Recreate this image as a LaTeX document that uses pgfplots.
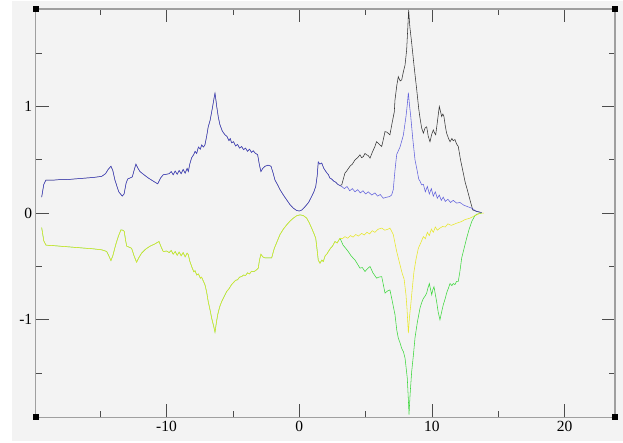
\documentclass[border=0pt]{standalone}
\usepackage{fontspec}
\setmainfont{Liberation Serif}
\usepackage{pgfplots}
\usepackage{pgfplotstable}
\pgfplotsset{compat=1.18}
\definecolor{bg}{RGB}{243,243,243}
\definecolor{cblue}{RGB}{60,60,215}
\definecolor{cgreen}{RGB}{60,215,60}
\definecolor{cyellow}{RGB}{232,232,40}

\pgfplotstableread{
x y
-19.41 0.15
-19.25 0.27
-19.09 0.31
-18.5 0.31
-18.0 0.315
-17.5 0.315
-17.0 0.32
-16.5 0.325
-16.0 0.33
-15.5 0.335
-14.89 0.345
-14.6 0.37
-14.4 0.41
-14.19 0.44
-14.05 0.40
-13.89 0.31
-13.6 0.20
-13.34 0.16
-13.2 0.18
-13.05 0.28
-12.93 0.32
-12.75 0.33
-12.58 0.34
-12.45 0.40
-12.31 0.46
-12.15 0.42
-12.0 0.39
-11.7 0.36
-11.38 0.33
-11.0 0.30
-10.67 0.275
-10.45 0.33
-10.25 0.36
-10.0 0.365
-9.8 0.37
-9.65 0.39
-9.5 0.36
-9.35 0.395
-9.2 0.365
-9.05 0.40
-8.9 0.37
-8.75 0.41
-8.6 0.375
-8.45 0.42
-8.36 0.39
-8.25 0.46
-8.11 0.52
-7.95 0.55
-7.85 0.58
-7.73 0.56
-7.6 0.62
-7.45 0.60
-7.36 0.64
-7.22 0.62
-7.11 0.64
-6.98 0.72
-6.86 0.81
-6.72 0.87
-6.6 0.95
-6.5 1.02
-6.42 1.08
-6.35 1.125
-6.28 1.06
-6.22 1.0
-6.1 0.90
-5.98 0.83
-5.8 0.77
-5.6 0.735
-5.45 0.72
-5.3 0.68
-5.2 0.70
-5.1 0.66
-4.95 0.67
-4.8 0.63
-4.65 0.645
-4.5 0.61
-4.34 0.625
-4.2 0.595
-4.05 0.61
-3.9 0.58
-3.75 0.60
-3.6 0.57
-3.47 0.585
-3.3 0.56
-3.14 0.55
-3.0 0.45
-2.89 0.39
-2.75 0.42
-2.58 0.44
-2.35 0.45
-2.13 0.44
-1.98 0.38
-1.83 0.31
-1.65 0.27
-1.45 0.22
-1.2 0.17
-0.95 0.125
-0.7 0.08
-0.45 0.047
-0.2 0.025
0.0 0.02
0.2 0.03
0.43 0.06
0.7 0.10
0.93 0.156
1.1 0.2
1.24 0.25
1.35 0.35
1.43 0.48
1.55 0.46
1.69 0.47
1.85 0.42
2.06 0.38
2.2 0.36
2.3 0.33
2.44 0.32
2.6 0.30
2.75 0.29
2.9 0.27
3.05 0.26
}\upleft

\pgfplotstableread{
x y
3.05 0.26
3.2 0.25
3.4 0.23
3.6 0.25
3.8 0.21
4.0 0.23
4.2 0.20
4.4 0.22
4.6 0.19
4.8 0.21
5.0 0.18
5.2 0.20
5.46 0.17
5.7 0.19
5.9 0.16
6.1 0.175
6.33 0.14
6.6 0.15
6.8 0.155
6.96 0.17
7.08 0.22
7.21 0.40
7.34 0.55
7.59 0.62
7.84 0.73
8.04 0.906
8.14 1.02
8.22 1.13
8.3 1.02
8.4 0.906
8.55 0.70
8.72 0.50
8.85 0.42
9.0 0.32
9.1 0.30
9.22 0.265
9.35 0.27
9.5 0.20
9.65 0.25
9.8 0.18
9.95 0.23
10.1 0.16
10.25 0.20
10.4 0.14
10.55 0.17
10.7 0.12
10.85 0.15
11.0 0.11
11.2 0.13
11.4 0.10
11.6 0.12
11.86 0.094
12.1 0.10
12.4 0.075
12.7 0.06
12.99 0.047
13.3 0.02
13.74 0.005
}\blueright

\pgfplotstableread{
x y
3.05 0.26
3.2 0.265
3.44 0.375
3.6 0.40
3.82 0.44
4.0 0.46
4.2 0.50
4.4 0.52
4.57 0.547
4.7 0.52
4.82 0.53
4.95 0.56
5.08 0.547
5.2 0.54
5.33 0.516
5.5 0.57
5.7 0.625
5.82 0.67
5.95 0.656
6.08 0.64
6.21 0.625
6.35 0.70
6.46 0.765
6.6 0.76
6.83 0.735
7.0 0.85
7.16 0.95
7.21 1.06
7.35 1.20
7.46 1.28
7.6 1.24
7.72 1.25
7.85 1.33
7.97 1.39
8.09 1.53
8.17 1.72
8.24 1.907
8.33 1.75
8.47 1.595
8.65 1.38
8.85 1.157
9.0 0.98
9.1 0.89
9.22 0.80
9.35 0.75
9.48 0.80
9.6 0.81
9.72 0.72
9.85 0.67
9.98 0.74
10.1 0.78
10.2 0.75
10.28 0.735
10.42 0.87
10.55 1.0
10.65 0.95
10.73 0.906
10.82 0.93
10.9 0.906
11.0 0.82
11.1 0.75
11.25 0.70
11.36 0.67
11.5 0.70
11.6 0.68
11.73 0.69
11.85 0.65
11.98 0.625
12.15 0.50
12.36 0.375
12.5 0.29
12.66 0.22
12.86 0.125
13.07 0.03
13.4 0.015
13.74 0.005
}\blackright

\pgfplotstableread{
x y
-19.41 -0.135
-19.25 -0.26
-19.09 -0.30
-18.5 -0.305
-18.0 -0.31
-17.5 -0.315
-17.0 -0.32
-16.5 -0.325
-16.0 -0.33
-15.5 -0.335
-14.89 -0.344
-14.51 -0.36
-14.35 -0.40
-14.19 -0.445
-14.05 -0.40
-13.84 -0.30
-13.64 -0.22
-13.44 -0.157
-13.3 -0.16
-13.19 -0.17
-13.08 -0.26
-13.0 -0.31
-12.8 -0.32
-12.63 -0.33
-12.45 -0.40
-12.26 -0.46
-12.1 -0.42
-11.88 -0.375
-11.6 -0.34
-11.25 -0.31
-10.9 -0.29
-10.57 -0.266
-10.4 -0.32
-10.25 -0.36
-10.0 -0.355
-9.8 -0.37
-9.65 -0.35
-9.5 -0.385
-9.35 -0.36
-9.2 -0.395
-9.05 -0.365
-8.9 -0.40
-8.75 -0.37
-8.6 -0.41
-8.45 -0.375
-8.36 -0.39
-8.25 -0.45
-8.11 -0.50
-7.95 -0.55
-7.85 -0.54
-7.73 -0.58
-7.6 -0.57
-7.45 -0.61
-7.36 -0.60
-7.22 -0.64
-7.11 -0.67
-6.98 -0.74
-6.86 -0.83
-6.72 -0.91
-6.6 -0.985
-6.45 -1.06
-6.35 -1.117
-6.25 -1.03
-6.15 -0.954
-6.0 -0.88
-5.85 -0.83
-5.65 -0.78
-5.47 -0.735
-5.3 -0.71
-5.1 -0.67
-4.95 -0.65
-4.8 -0.63
-4.65 -0.625
-4.5 -0.60
-4.34 -0.595
-4.2 -0.58
-4.05 -0.585
-3.9 -0.56
-3.75 -0.57
-3.6 -0.545
-3.39 -0.547
-3.2 -0.53
-3.09 -0.516
-3.0 -0.44
-2.89 -0.385
-2.75 -0.41
-2.58 -0.42
-2.3 -0.42
-2.08 -0.42
-1.95 -0.36
-1.88 -0.33
-1.65 -0.26
-1.45 -0.20
-1.2 -0.15
-0.95 -0.11
-0.7 -0.075
-0.45 -0.047
-0.2 -0.025
0.05 -0.016
0.3 -0.022
0.56 -0.047
0.75 -0.09
0.93 -0.14
1.1 -0.19
1.24 -0.235
1.33 -0.33
1.43 -0.44
1.56 -0.47
1.7 -0.44
1.81 -0.454
1.95 -0.40
2.1 -0.38
2.19 -0.36
2.35 -0.33
2.5 -0.31
2.69 -0.266
2.85 -0.28
3.07 -0.235
}\downleft

\pgfplotstableread{
x y
3.07 -0.235
3.25 -0.24
3.44 -0.22
3.65 -0.235
3.85 -0.21
4.05 -0.225
4.25 -0.20
4.45 -0.215
4.7 -0.19
4.9 -0.205
5.1 -0.18
5.3 -0.195
5.5 -0.165
5.7 -0.18
5.95 -0.15
6.21 -0.14
6.45 -0.16
6.7 -0.15
6.83 -0.14
6.96 -0.17
7.08 -0.2
7.34 -0.36
7.72 -0.55
7.9 -0.62
8.04 -0.766
8.12 -0.90
8.22 -1.126
8.3 -0.98
8.4 -0.86
8.52 -0.70
8.64 -0.55
8.8 -0.43
8.97 -0.33
9.15 -0.28
9.35 -0.22
9.5 -0.24
9.65 -0.18
9.8 -0.21
9.95 -0.15
10.1 -0.18
10.25 -0.13
10.4 -0.16
10.6 -0.14
10.8 -0.125
11.0 -0.13
11.2 -0.10
11.45 -0.115
11.86 -0.094
12.2 -0.08
12.5 -0.06
12.86 -0.047
13.2 -0.025
13.62 0.0
13.9 0.0
}\yellowright

\pgfplotstableread{
x y
3.07 -0.235
3.3 -0.30
3.5 -0.33
3.69 -0.36
3.9 -0.40
4.2 -0.44
4.4 -0.48
4.57 -0.516
4.75 -0.51
4.95 -0.547
5.15 -0.52
5.33 -0.50
5.55 -0.56
5.83 -0.61
6.0 -0.60
6.21 -0.595
6.35 -0.68
6.46 -0.75
6.65 -0.73
6.83 -0.72
7.0 -0.82
7.16 -0.92
7.21 -0.95
7.35 -1.10
7.46 -1.17
7.6 -1.22
7.72 -1.27
7.85 -1.30
7.97 -1.36
8.14 -1.55
8.22 -1.75
8.27 -1.89
8.35 -1.70
8.47 -1.486
8.6 -1.33
8.72 -1.17
8.9 -1.02
9.1 -0.89
9.22 -0.84
9.35 -0.80
9.47 -0.78
9.6 -0.75
9.7 -0.70
9.8 -0.66
9.9 -0.72
9.98 -0.766
10.06 -0.72
10.15 -0.69
10.25 -0.76
10.35 -0.83
10.47 -0.93
10.6 -1.0
10.72 -0.93
10.85 -0.86
11.0 -0.80
11.1 -0.75
11.25 -0.70
11.36 -0.66
11.5 -0.68
11.6 -0.66
11.73 -0.67
11.85 -0.64
11.98 -0.64
12.1 -0.55
12.24 -0.42
12.4 -0.34
12.61 -0.235
12.8 -0.15
12.99 -0.08
13.2 -0.03
13.37 -0.01
13.74 0.0
}\greenright

\begin{document}
\begin{tikzpicture}
\path[use as bounding box] (-35.7pt,-24.7pt) rectangle (587.3pt,417.3pt);
\fill[bg] (-23.7pt,-23.7pt) rectangle (587.3pt,416.3pt);
\begin{axis}[
  at={(0,0)}, anchor=south west,
  scale only axis, width=579.3pt, height=408.3pt,
  xmin=-19.86, xmax=23.79, ymin=-1.915, ymax=1.915,
  axis line style={draw=gray!75, line width=1.2pt},
  tick align=inside,
  xtick={-10,0,10,20}, xticklabels={-10,0,10,20},
  minor xtick={-15,-5,5,15},
  ytick={-1,0,1}, yticklabels={-1,0,1},
  minor ytick={-1.5,-0.5,0.5,1.5},
  major tick length=13pt, minor tick length=6pt,
  major tick style={gray!60!black, line width=0.8pt},
  minor tick style={gray!60!black, line width=0.8pt},
  tick label style={font=\fontsize{15.5}{18}\selectfont},
  clip=true,
  every axis plot/.append style={line width=0.55pt, no markers},
  after end axis/.code={
    \fill[black] (rel axis cs:0,0) ++(-3pt,-3pt) rectangle ++(6pt,6pt);
    \fill[black] (rel axis cs:1,0) ++(-3pt,-3pt) rectangle ++(6pt,6pt);
    \fill[black] (rel axis cs:0,1) ++(-3pt,-3pt) rectangle ++(6pt,6pt);
    \fill[black] (rel axis cs:1,1) ++(-3pt,-3pt) rectangle ++(6pt,6pt);
  },
]
\addplot[black!70, line width=0.4pt] table {\upleft};
\addplot[black!80] table {\blackright};
\addplot[cblue, opacity=0.85] table {\upleft};
\addplot[cblue, opacity=0.8] table {\blueright};
\addplot[cgreen, line width=0.4pt] table {\downleft};
\addplot[cgreen] table {\greenright};
\addplot[cyellow, opacity=0.95] table {\downleft};
\addplot[cyellow] table {\yellowright};
\end{axis}
\end{tikzpicture}
\end{document}
